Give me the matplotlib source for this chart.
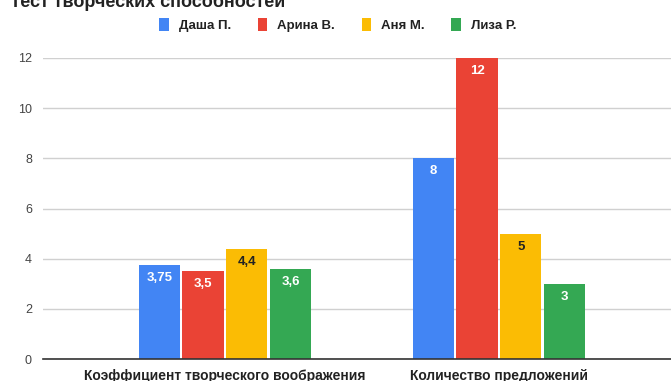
import matplotlib
matplotlib.use("Agg")
import matplotlib.pyplot as plt
import numpy as np

plt.rcParams['font.family'] = ['Liberation Sans', 'DejaVu Sans']

categories = ["Коэффициент творческого воображения", "Количество предложений"]
series_names = ["Даша П.", "Арина В.", "Аня М.", "Лиза Р."]
values = {
    "Даша П.": [3.75, 8],
    "Арина В.": [3.5, 12],
    "Аня М.": [4.4, 5],
    "Лиза Р.": [3.6, 3],
}
value_labels = {
    "Даша П.": ["3,75", "8"],
    "Арина В.": ["3,5", "12"],
    "Аня М.": ["4,4", "5"],
    "Лиза Р.": ["3,6", "3"],
}
colors = ["#4285F4", "#EA4335", "#FBBC04", "#34A853"]
label_colors = ["white", "white", "#222222", "white"]
y_ticks = [0, 2, 4, 6, 8, 10, 12]

W, H = 671, 381
fig = plt.figure(figsize=(W / 100, H / 100), dpi=100)
ax = fig.add_axes([43 / W, 1 - 359 / H, (W - 43) / W, (359 - 58) / H])

x = np.arange(len(categories))
width = 0.15
step = 0.16
for i, name in enumerate(series_names):
    offs = (i - 1.5) * step
    bars = ax.bar(x + offs, values[name], width=width, color=colors[i],
                  zorder=3, label=name)
    for b, txt in zip(bars, value_labels[name]):
        ax.annotate(txt, (b.get_x() + b.get_width() / 2, b.get_height()),
                    xytext=(0, -13), textcoords="offset pixels",
                    ha="center", va="center", fontsize=9.5, fontweight="bold",
                    color=label_colors[i], zorder=4)

ax.set_ylim(0, 12)
ax.set_xlim(-0.664, 1.628)
ax.set_yticks(y_ticks)
ax.set_yticklabels([str(t) for t in y_ticks], fontsize=9, color="#444444")
ax.tick_params(axis="y", length=0, pad=8)
ax.set_xticks(x)
ax.set_xticklabels(categories, fontsize=10, fontweight="bold", color="#222222")
ax.tick_params(axis="x", length=0, pad=7)
ax.grid(axis="y", color="#d0d0d0", linewidth=1, zorder=0)
for s in ["top", "right", "left"]:
    ax.spines[s].set_visible(False)
ax.spines["bottom"].set_color("#333333")
ax.spines["bottom"].set_linewidth(1.2)
ax.spines["bottom"].set_zorder(5)

leg = fig.legend(loc="center", bbox_to_anchor=(338 / W, 1 - 25 / H), ncol=4,
                 frameon=False, prop={"size": 9.5, "weight": "bold"},
                 handlelength=0.7, handleheight=1.1, handletextpad=0.8,
                 columnspacing=2.0)
for t in leg.get_texts():
    t.set_color("#222222")

fig.text(10 / W, 1 - 2 / H, "Тест творческих способностей", fontsize=13,
         fontweight="bold", color="#222222", ha="left", va="center")

fig.savefig("out.png", dpi=100, facecolor="white")
